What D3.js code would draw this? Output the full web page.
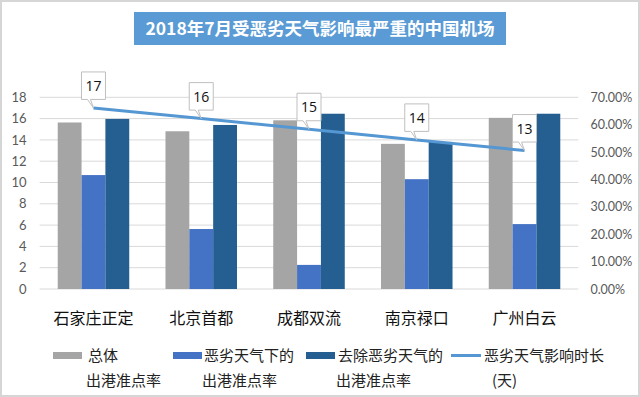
<!DOCTYPE html>
<html>
<head>
<meta charset="utf-8">
<script src="https://cdn.jsdelivr.net/npm/d3@7"></script>
<style>
  body { margin: 0; background: #fff; }
  svg { display: block; font-family: "Noto Sans CJK SC", "Open Sans", sans-serif; }
</style>
</head>
<body>
<svg width="640" height="397"></svg>
<script>
// data
var airports = ["石家庄正定", "北京首都", "成都双流", "南京禄口", "广州白云"];
var overall = [0.608, 0.576, 0.616, 0.530, 0.625];      // 总体出港准点率
var badWeather = [0.416, 0.219, 0.088, 0.401, 0.237];   // 恶劣天气下的出港准点率
var excluded = [0.621, 0.599, 0.640, 0.537, 0.640];     // 去除恶劣天气的出港准点率
var impactDays = [17, 16, 15, 14, 13];                  // 恶劣天气影响时长
var leftTicks = [0, 2, 4, 6, 8, 10, 12, 14, 16, 18];
var rightTicks = [0, 0.1, 0.2, 0.3, 0.4, 0.5, 0.6, 0.7];

var seriesNames = ["总体", "恶劣天气下的", "去除恶劣天气的"];
var colors = ["#a5a5a5", "#4472c4", "#255e91"];
var lineColor = "#5597d3";

var svg = d3.select("svg");

// frame
svg.append("rect").attr("x", 1).attr("y", 1).attr("width", 638).attr("height", 395)
  .attr("fill", "none").attr("stroke", "#d6d6d6").attr("stroke-width", 2);

// title
svg.append("rect").attr("x", 134).attr("y", 12).attr("width", 372).attr("height", 33)
  .attr("fill", "#5b9bd5");
svg.append("text").attr("x", 320).attr("y", 35).attr("text-anchor", "middle")
  .attr("fill", "#fff").attr("font-size", "17.5px").attr("font-weight", "bold")
  .text("2018年7月受恶劣天气影响最严重的中国机场");

var plotLeft = 39.6, plotRight = 578.4, plotTop = 97.3, plotBottom = 289;

var x = d3.scaleBand().domain(airports).range([plotLeft, plotRight]).padding(0);
var x1 = d3.scaleBand().domain(d3.range(3)).range([0, x.bandwidth()])
  .paddingInner(0).paddingOuter(0.76);
var yLeft = d3.scaleLinear().domain([0, 18]).range([plotBottom, plotTop]);
var yRight = d3.scaleLinear().domain([0, 0.7]).range([plotBottom, plotTop]);

// gridlines
svg.append("g").selectAll("line").data(leftTicks).enter().append("line")
  .attr("x1", plotLeft).attr("x2", plotRight)
  .attr("y1", function(d) { return yLeft(d); }).attr("y2", function(d) { return yLeft(d); })
  .attr("stroke", "#d9d9d9").attr("stroke-width", 1);

// left axis
var gl = svg.append("g").attr("transform", "translate(" + (plotLeft - 13) + ",0)")
  .call(d3.axisLeft(yLeft).tickValues(leftTicks).tickSize(0).tickPadding(0));
gl.select(".domain").remove();
gl.selectAll("text").attr("fill", "#595959").attr("font-size", "13px")
  .attr("font-family", "Lato, 'Open Sans', sans-serif");

// right axis
var gr = svg.append("g").attr("transform", "translate(" + (plotRight + 12) + ",0)")
  .call(d3.axisRight(yRight).tickValues(rightTicks).tickSize(0).tickPadding(0)
    .tickFormat(d3.format(".2%")));
gr.select(".domain").remove();
gr.selectAll("text").attr("fill", "#595959").attr("font-size", "12.5px")
  .attr("font-family", "Lato, 'Open Sans', sans-serif");

// bars
var barData = [overall, badWeather, excluded];
var groups = svg.append("g").selectAll("g").data(barData).enter().append("g")
  .attr("fill", function(d, i) { return colors[i]; });
groups.each(function(vals, si) {
  d3.select(this).selectAll("rect").data(vals).enter().append("rect")
    .attr("x", function(d, i) { return x(airports[i]) + x1(si); })
    .attr("width", x1.bandwidth())
    .attr("y", function(d) { return yRight(d); })
    .attr("height", function(d) { return plotBottom - yRight(d); });
});

// category labels
svg.append("g").selectAll("text").data(airports).enter().append("text")
  .attr("x", function(d) { return x(d) + x.bandwidth() / 2; })
  .attr("y", 324).attr("text-anchor", "middle")
  .attr("font-size", "16px").attr("fill", "#111")
  .text(function(d) { return d; });

// line
var line = d3.line()
  .x(function(d, i) { return x(airports[i]) + x.bandwidth() / 2; })
  .y(function(d) { return yLeft(d); });
svg.append("path").datum(impactDays).attr("d", line)
  .attr("fill", "none").attr("stroke", lineColor).attr("stroke-width", 3);

// callout labels
var callouts = svg.append("g").selectAll("g").data(impactDays).enter().append("g")
  .attr("transform", function(d, i) {
    return "translate(" + (x(airports[i]) + x.bandwidth() / 2) + "," + yLeft(d) + ")";
  });
callouts.append("path")
  .attr("d", "M-12,-36 H12 V-8.5 H-3 L0,0 L-6,-8.5 H-12 Z")
  .attr("fill", "#fff").attr("stroke", "#bfbfbf").attr("stroke-width", 1);
callouts.append("text").attr("x", 0).attr("y", -17).attr("text-anchor", "middle")
  .attr("font-size", "14px").attr("fill", "#111")
  .attr("font-family", "'Open Sans', sans-serif")
  .text(function(d) { return d; });

// legend
var legendItems = [
  { x: 53, label: [seriesNames[0], "出港准点率"], type: "rect", color: colors[0], tx: 88 },
  { x: 173, label: [seriesNames[1], "出港准点率"], type: "rect", color: colors[1], tx: 204 },
  { x: 306, label: [seriesNames[2], "出港准点率"], type: "rect", color: colors[2], tx: 338 },
  { x: 451, label: ["恶劣天气影响时长", "(天)"], type: "line", color: lineColor, tx: 484 }
];
var lg = svg.append("g").selectAll("g").data(legendItems).enter().append("g");
lg.each(function(d) {
  var g = d3.select(this);
  if (d.type === "rect") {
    g.append("rect").attr("x", d.x).attr("y", 352).attr("width", 29).attr("height", 7)
      .attr("fill", d.color);
  } else {
    g.append("line").attr("x1", d.x).attr("x2", d.x + 30).attr("y1", 355.5).attr("y2", 355.5)
      .attr("stroke", d.color).attr("stroke-width", 3);
  }
  g.append("text").attr("x", d.tx).attr("y", 361).attr("font-size", "15px").attr("fill", "#222")
    .text(d.label[0]);
  g.append("text").attr("x", d.label[1].length < 4 ? d.tx + 8 : d.tx - 2).attr("y", 386)
    .attr("font-size", "15px").attr("fill", "#222").text(d.label[1]);
});
</script>
</body>
</html>
